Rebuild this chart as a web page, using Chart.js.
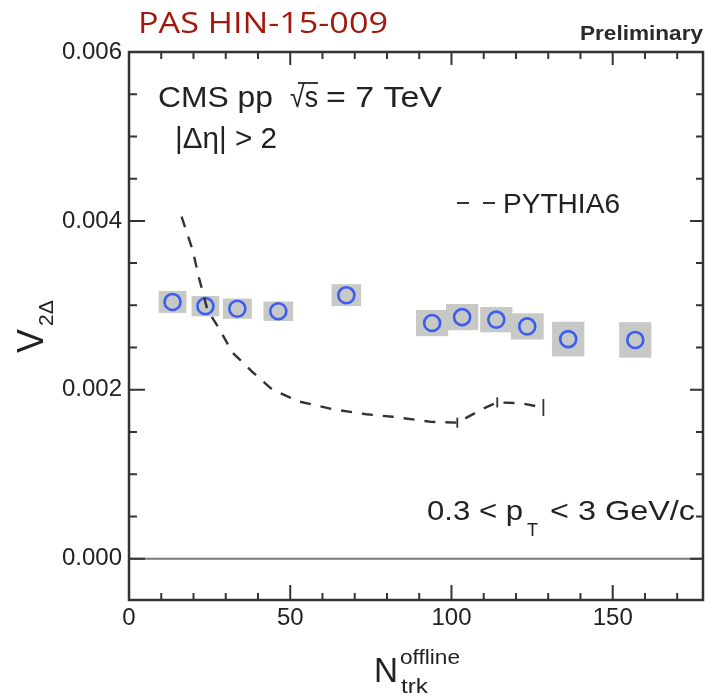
<!DOCTYPE html>
<html><head><meta charset="utf-8">
<script src="https://cdn.jsdelivr.net/npm/chart.js@4"></script>
<style>html,body{margin:0;padding:0;background:#fff;overflow:hidden}#wrap{width:705px;height:695px;position:relative}</style>
</head><body><div id="wrap"><canvas id="c" width="705" height="695"></canvas></div>
<script>
// CMS data (N_trk^offline, v2Δ) with systematic boxes
const nTrk   = [13.5, 23.7, 33.6, 46.3, 67.4, 94.0, 103.3, 113.9, 123.5, 136.2, 157.0];
const v2     = [0.00304, 0.00299, 0.00296, 0.00293, 0.00312, 0.00279, 0.00286, 0.00283, 0.00275, 0.00260, 0.00259];
const v2SysX = [4.3, 4.3, 4.5, 4.6, 4.6, 5.0, 5.0, 5.0, 5.1, 5.0, 5.0];
const v2SysY = [0.00013, 0.00012, 0.00012, 0.000115, 0.00013, 0.000155, 0.000155, 0.00015, 0.000155, 0.000205, 0.00021];
// PYTHIA6 curve
const pythiaN   = [16.3, 19.7, 21.8, 24.3, 28.0, 32.1, 38.3, 44.5, 52.8, 63.1, 73.6, 81.7, 93.7, 101.8, 109.5, 114.2, 121.5, 128.5];
const pythiaV2  = [0.00405, 0.00366, 0.00331, 0.00295, 0.00272, 0.00244, 0.00221, 0.00200, 0.00186, 0.00177, 0.00171, 0.00168, 0.00162, 0.00161, 0.00177, 0.00185, 0.00184, 0.00179];
const pythiaErr = [0, 0, 0, 0, 0, 0, 0, 0, 0, 0, 0, 0, 0, 0.00006, 0, 0.00006, 0, 0.0001];
// ticks
const xTickValues = [0, 50, 100, 150];
const yTickValues = [0, 0.002, 0.004, 0.006];

const SANS = '"Liberation Sans", Arial, sans-serif';

function txt(ctx, s, x, y, font, color, targetW) {
  ctx.save();
  ctx.font = font; ctx.fillStyle = color || '#222';
  ctx.textAlign = 'left'; ctx.textBaseline = 'alphabetic';
  if (targetW) {
    const w = ctx.measureText(s).width;
    ctx.translate(x, y); ctx.scale(targetW / w, 1); ctx.fillText(s, 0, 0);
  } else ctx.fillText(s, x, y);
  ctx.restore();
}

const decor = {
  id: 'decor',
  beforeDatasetsDraw(chart) {
    const ctx = chart.ctx, xs = chart.scales.x, ys = chart.scales.y, a = chart.chartArea;
    ctx.save();
    ctx.strokeStyle = '#7a7a7a'; ctx.lineWidth = 2;
    const y0 = ys.getPixelForValue(0);
    ctx.beginPath(); ctx.moveTo(a.left, y0); ctx.lineTo(a.right, y0); ctx.stroke();
    ctx.fillStyle = '#c6c9c6';
    for (let i = 0; i < nTrk.length; i++) {
      const x1 = xs.getPixelForValue(nTrk[i] - v2SysX[i]);
      const x2 = xs.getPixelForValue(nTrk[i] + v2SysX[i]);
      const y1 = ys.getPixelForValue(v2[i] + v2SysY[i]);
      const y2 = ys.getPixelForValue(v2[i] - v2SysY[i]);
      ctx.fillRect(x1, y1, x2 - x1, y2 - y1);
    }
    ctx.restore();
  },
  afterDatasetsDraw(chart) {
    const ctx = chart.ctx, xs = chart.scales.x, ys = chart.scales.y, a = chart.chartArea;
    ctx.save();
    ctx.strokeStyle = '#333'; ctx.lineWidth = 1.8;
    for (let i = 0; i < pythiaN.length; i++) {
      if (!pythiaErr[i]) continue;
      const px = xs.getPixelForValue(pythiaN[i]);
      ctx.beginPath();
      ctx.moveTo(px, ys.getPixelForValue(pythiaV2[i] + pythiaErr[i]));
      ctx.lineTo(px, ys.getPixelForValue(pythiaV2[i] - pythiaErr[i]));
      ctx.stroke();
    }
    ctx.strokeStyle = '#333'; ctx.lineWidth = 2.5;
    ctx.strokeRect(a.left, a.top, a.right - a.left, a.bottom - a.top);
    ctx.lineWidth = 2;
    for (let v = 0; v <= 175; v += 10) {
      const major = v % 50 === 0;
      const px = xs.getPixelForValue(v), L = major ? 15 : 7;
      ctx.beginPath();
      ctx.moveTo(px, a.bottom); ctx.lineTo(px, a.bottom - L);
      ctx.moveTo(px, a.top); ctx.lineTo(px, a.top + (major ? 13 : 7));
      ctx.stroke();
    }
    for (let k = 0; k <= 12; k++) {
      const v = k * 0.0005, major = k % 4 === 0;
      const py = ys.getPixelForValue(v), L = major ? 16 : 8;
      ctx.beginPath();
      ctx.moveTo(a.left, py); ctx.lineTo(a.left + L, py);
      ctx.moveTo(a.right, py); ctx.lineTo(a.right - (major ? 13 : 7), py);
      ctx.stroke();
    }
    ctx.restore();
  },
  afterDraw(chart) {
    const ctx = chart.ctx;
    txt(ctx, 'PAS HIN-15-009', 138, 33, '30px "Open Sans", sans-serif', '#a3170c', 250);
    txt(ctx, 'Preliminary', 580, 40, 'bold 20px ' + SANS, '#2a2a2a', 123);
    txt(ctx, 'CMS pp', 158, 107, '30px ' + SANS, '#222', 115);
    txt(ctx, '\u221As', 290, 107, '30px ' + SANS, '#222', 28);
    ctx.save(); ctx.strokeStyle = '#222'; ctx.lineWidth = 1.8;
    ctx.beginPath(); ctx.moveTo(298, 83); ctx.lineTo(318, 83); ctx.stroke(); ctx.restore();
    txt(ctx, '= 7 TeV', 326, 107, '30px ' + SANS, '#222', 116);
    txt(ctx, '|\u0394\u03B7| > 2', 175, 148, '30px ' + SANS, '#222', 102);
    ctx.save(); ctx.strokeStyle = '#333'; ctx.lineWidth = 2;
    ctx.beginPath(); ctx.moveTo(457, 203); ctx.lineTo(469, 203); ctx.moveTo(483, 203); ctx.lineTo(495, 203); ctx.stroke(); ctx.restore();
    txt(ctx, 'PYTHIA6', 503, 213, '28px ' + SANS, '#222', 117);
    txt(ctx, '0.3 < p', 427, 520, '28px ' + SANS, '#222', 96);
    txt(ctx, 'T', 527, 536, '18px ' + SANS, '#222');
    txt(ctx, '< 3 GeV/c', 550, 520, '28px ' + SANS, '#222', 145);
    txt(ctx, 'N', 374, 682, '35px ' + SANS, '#222', 24);
    txt(ctx, 'offline', 400, 664, '21px ' + SANS, '#222', 60);
    txt(ctx, 'trk', 401, 693, '21px ' + SANS, '#222', 27);
    ctx.save();
    ctx.translate(43, 353); ctx.rotate(-Math.PI / 2);
    ctx.fillStyle = '#222'; ctx.textBaseline = 'alphabetic';
    ctx.font = '36px ' + SANS; ctx.fillText('V', 0, 0);
    ctx.font = '21px ' + SANS; ctx.fillText('2\u0394', 27, 10);
    ctx.restore();
  }
};

new Chart(document.getElementById('c'), {
  type: 'scatter',
  data: {
    datasets: [
      {
        label: 'PYTHIA6',
        data: pythiaN.map((x, i) => ({ x, y: pythiaV2[i] })),
        showLine: true, borderColor: '#333', borderWidth: 2.4,
        borderDash: [11, 10], pointRadius: 0, tension: 0, fill: false
      },
      {
        label: 'CMS',
        data: nTrk.map((x, i) => ({ x, y: v2[i] })),
        pointStyle: 'circle', pointRadius: 8, pointBorderWidth: 2.6,
        pointBorderColor: '#3d5cf2', pointBackgroundColor: 'rgba(0,0,0,0)',
        borderColor: '#3d5cf2', backgroundColor: 'rgba(0,0,0,0)'
      }
    ]
  },
  options: {
    responsive: false, animation: false, devicePixelRatio: 1,
    layout: { autoPadding: false, padding: { top: 52, right: 2, left: 0, bottom: 0 } },
    plugins: { legend: { display: false }, tooltip: { enabled: false } },
    scales: {
      x: {
        type: 'linear', min: 0, max: 178,
        grid: { display: false, drawTicks: false }, border: { display: false },
        afterBuildTicks: s => { s.ticks = xTickValues.map(v => ({ value: v })); },
        afterFit: s => { s.height = 95; },
        ticks: { padding: 4, color: '#222', font: { family: SANS, size: 24 }, maxRotation: 0,
                 callback: v => String(v) }
      },
      y: {
        type: 'linear', min: -0.00049, max: 0.006,
        grid: { display: false, drawTicks: false }, border: { display: false },
        afterBuildTicks: s => { s.ticks = yTickValues.map(v => ({ value: v })); },
        afterFit: s => { s.width = 129; },
        ticks: { padding: 7, color: '#222', font: { family: SANS, size: 24 },
                 callback: v => Number(v).toFixed(3) }
      }
    }
  },
  plugins: [decor]
});
</script>
</body></html>
